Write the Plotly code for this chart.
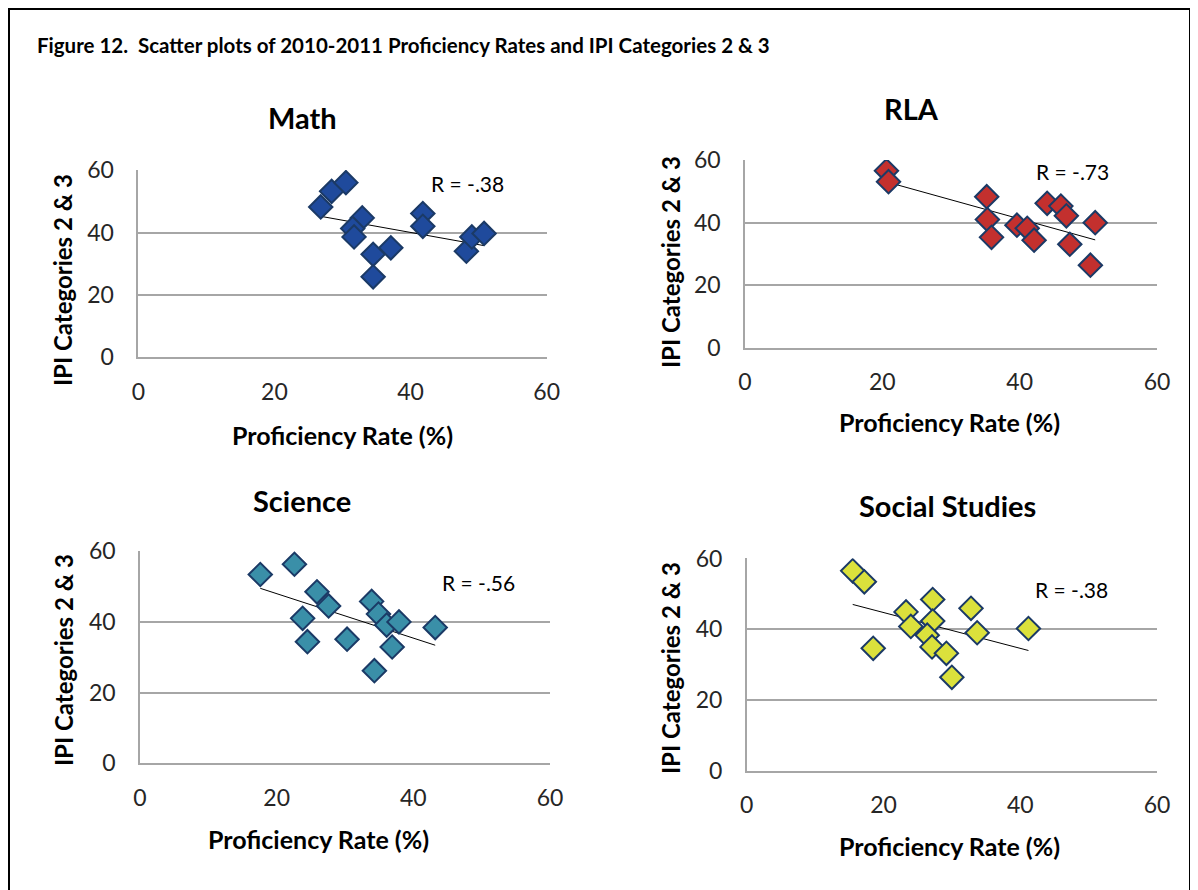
import numpy as np
import plotly.graph_objects as go

W, H = 1198, 890
OFF = 8  # the page body puts the figure 8px in from the corner

# data (proficiency rate %, IPI categories 2 & 3)
math_rate = [26.8, 28.4, 30.5, 32.9, 31.5, 31.7, 34.5, 37.1, 34.5, 41.8, 41.8, 48.2, 49.0, 50.8]
math_ipi = [48.2, 53.2, 56.0, 44.7, 41.3, 38.6, 33.0, 35.1, 25.8, 46.1, 42.0, 34.0, 38.6, 39.7]

rla_rate = [20.6, 20.9, 35.2, 35.3, 35.9, 39.6, 41.1, 42.1, 44.0, 46.0, 46.8, 47.3, 51.0, 50.3]
rla_ipi = [56.6, 53.1, 48.3, 41.0, 35.3, 39.2, 38.2, 34.4, 46.2, 45.3, 42.2, 33.1, 40.0, 26.4]

sci_rate = [17.6, 22.6, 25.9, 27.6, 23.8, 24.5, 30.3, 33.9, 34.9, 36.1, 37.9, 36.9, 34.3, 43.2]
sci_ipi = [53.4, 56.3, 48.5, 44.5, 41.0, 34.4, 35.1, 45.8, 42.2, 39.1, 40.0, 32.9, 26.2, 38.4]

soc_rate = [15.5, 17.2, 18.5, 23.3, 24.0, 27.2, 27.2, 26.4, 27.1, 29.2, 30.0, 32.8, 33.7, 41.2]
soc_ipi = [56.5, 53.4, 34.6, 44.9, 40.8, 48.4, 42.3, 38.3, 35.0, 33.2, 26.4, 45.9, 39.0, 40.2]

subjects = ["Math", "RLA", "Science", "Social Studies"]
r_labels = ["R = -.38", "R = -.73", "R = -.56", "R = -.38"]
tick_vals = [0, 20, 40, 60]

FONT = "Lato"
GRID = "#a6a6a6"
TXT = "#262626"


def px(x):
    return (x - OFF) / W


def py(y):
    return 1 - (y - OFF) / H


# pixel boxes of each plot area: left, right, top(60), bottom(0)
boxes = [
    (138.3, 546.7, 170.0, 357.3),
    (745.0, 1157.0, 160.0, 347.7),
    (140.0, 550.0, 551.0, 763.3),
    (746.7, 1157.0, 558.3, 770.7),
]
fills = ["#1f4a9c", "#c3302e", "#3a8fa8", "#dbe13c"]
# title, x-title, y-title, R label centres (pixels)
title_pos = [(302, 117), (911, 108), (302, 500), (947, 506)]
xtitle_pos = [(342, 435), (949, 422), (318, 839), (949, 846)]
ytitle_pos = [(63, 280), (670, 262), (63, 660), (670, 668)]
r_pos = [(467, 183), (1072, 172), (478, 582), (1071, 589)]

rates = [math_rate, rla_rate, sci_rate, soc_rate]
ipis = [math_ipi, rla_ipi, sci_ipi, soc_ipi]

fig = go.Figure()
annotations = []
shapes = []


def label(text, x, y, size, angle=0, anchor="center"):
    return dict(text=text, x=px(x), y=py(y), xref="paper", yref="paper",
                xanchor=anchor, yanchor="middle", showarrow=False, textangle=angle,
                font=dict(family=FONT, size=size, color="black"))


for i in range(4):
    n = "" if i == 0 else str(i + 1)
    l, r, t, b = boxes[i]
    x = np.array(rates[i])
    y = np.array(ipis[i])

    # linear trendline over the data range
    k, c = np.polyfit(x, y, 1)
    xs = np.array([x.min(), x.max()])
    fig.add_trace(go.Scatter(
        x=xs, y=k * xs + c, mode="lines",
        line=dict(color="black", width=1),
        xaxis="x" + n, yaxis="y" + n, showlegend=False, hoverinfo="skip"
    ))
    fig.add_trace(go.Scatter(
        x=x, y=y, mode="markers",
        marker=dict(symbol="diamond", size=18, color=fills[i],
                    line=dict(color="#1b3a66", width=2)),
        xaxis="x" + n, yaxis="y" + n, showlegend=False
    ))

    fig.layout["xaxis" + n] = dict(
        domain=[px(l), px(r)], range=[0, 60], tickvals=tick_vals,
        showgrid=False, zeroline=False, showline=True, linecolor=GRID, linewidth=1.5,
        ticks="", ticklabelstandoff=13, tickfont=dict(family=FONT, size=23, color=TXT),
        anchor="y" + n, fixedrange=True, automargin=False
    )
    fig.layout["yaxis" + n] = dict(
        domain=[py(b), py(t)], range=[0, 60.05], tickvals=tick_vals,
        showgrid=True, gridcolor=GRID, gridwidth=1.5,
        zeroline=False, showline=True, linecolor=GRID, linewidth=1.5,
        ticks="", ticklabelstandoff=18, tickfont=dict(family=FONT, size=23, color=TXT),
        anchor="x" + n, fixedrange=True, automargin=False
    )

    tx, ty = title_pos[i]
    annotations.append(label("<b>%s</b>" % subjects[i], tx, ty, 29))
    tx, ty = xtitle_pos[i]
    annotations.append(label("<b>Proficiency Rate (%)</b>", tx, ty, 25))
    tx, ty = ytitle_pos[i]
    annotations.append(label("<b>IPI Categories 2 &amp; 3</b>", tx, ty, 24, angle=-90))
    tx, ty = r_pos[i]
    annotations.append(label(r_labels[i], tx, ty, 21))

# white label boxes that hide the top gridline in the upper charts
shapes.append(dict(type="rect", xref="paper", yref="paper", layer="above",
                   x0=px(410), x1=px(549), y0=py(164), y1=py(198),
                   fillcolor="white", line=dict(width=0)))
shapes.append(dict(type="rect", xref="paper", yref="paper", layer="above",
                   x0=px(1016), x1=px(1155), y0=py(154), y1=py(188),
                   fillcolor="white", line=dict(width=0)))
# outer frame
shapes.append(dict(type="rect", xref="paper", yref="paper",
                   x0=px(9), x1=px(1190), y0=py(9), y1=py(910),
                   fillcolor="rgba(0,0,0,0)", line=dict(color="black", width=2)))

annotations.append(label("<b>Figure 12.</b>", 35, 45, 20.5, anchor="left"))
annotations.append(label("<b>Scatter plots of 2010-2011 Proficiency Rates and IPI Categories 2 &amp; 3</b>",
                         136, 45, 20.5, anchor="left"))

fig.update_layout(
    width=W, height=H,
    margin=dict(l=0, r=0, t=0, b=0, pad=0, autoexpand=False),
    paper_bgcolor="white", plot_bgcolor="white",
    annotations=annotations, shapes=shapes,
    font=dict(family=FONT)
)

fig.write_html("out.html")
